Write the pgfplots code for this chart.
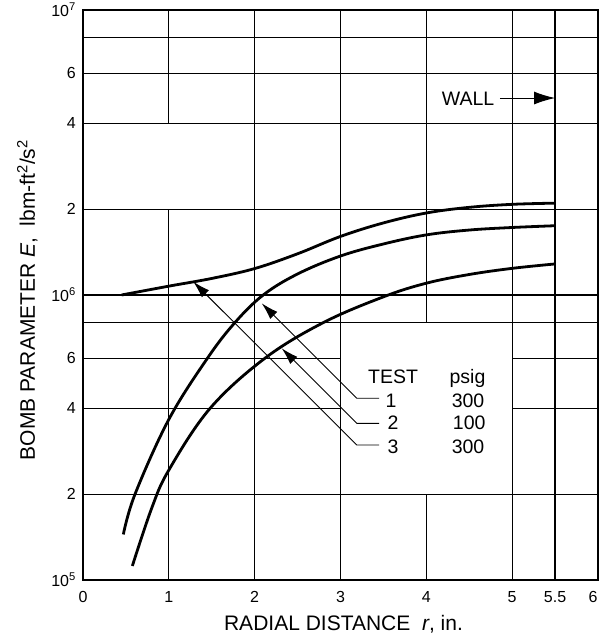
\documentclass[border=0pt]{standalone}
\usepackage{fontspec}
\setmainfont{Liberation Sans}
\usepackage{pgfplots}
\pgfplotsset{compat=1.18}
\usetikzlibrary{arrows.meta}

\pgfplotstableread{
x y
0.45 1.00e6
1.0 1.074e6
1.5 1.143e6
2.0 1.238e6
2.5 1.395e6
3.0 1.605e6
3.5 1.79e6
4.0 1.94e6
4.5 2.03e6
5.0 2.08e6
5.5 2.10e6
}\curvetop

\pgfplotstableread{
x y
0.47 1.445e5
0.606 2.0e5
1.0 3.66e5
1.45 6.0e5
1.77 8.0e5
2.1 1.0e6
2.5 1.185e6
3.0 1.37e6
3.5 1.51e6
4.0 1.625e6
4.5 1.69e6
5.0 1.725e6
5.5 1.75e6
}\curvemid

\pgfplotstableread{
x y
0.575 1.12e5
0.8 1.785e5
1.0 2.43e5
1.48 4.0e5
2.12 6.0e5
2.8 8.0e5
3.5 9.85e5
4.0 1.10e6
4.5 1.18e6
5.0 1.24e6
5.5 1.285e6
}\curvebot

\begin{document}
\begin{tikzpicture}[x=1pt,y=1pt]
\begin{axis}[name=ax, at={(0,0)}, anchor=south west,
  width=515pt, height=570pt, scale only axis,
  xmin=0, xmax=6, ymode=log, ymin=1e5, ymax=1e7,
  xtick={0,1,2,3,4,5,5.5,6}, xticklabels={0,1,2,3,4,5,5.5,\kern-5pt 6\kern5pt},
  ytick={1e5,2e5,4e5,6e5,1e6,2e6,4e6,6e6,1e7},
  yticklabels={10\textsuperscript{5},2,4,6,10\textsuperscript{6},2,4,6,\raisebox{-6pt}{10\textsuperscript{7}}},
  minor ytick={}, major tick length=0pt,
  tick label style={font=\fontsize{16}{16}\selectfont},
  yticklabel style={anchor=east, inner sep=0pt, xshift=-7pt},
  xticklabel style={anchor=north, inner sep=0pt, yshift=-11pt},
  axis line style={line width=2pt},
  clip=false,
]
% grid (with the gaps of the original drafting)
\begin{scope}[line width=1.3pt]
\draw (axis cs:1,1e5) -- (axis cs:1,2e6);
\draw (axis cs:1,4e6) -- (axis cs:1,1e7);
\draw (axis cs:2,1e5) -- (axis cs:2,1e7);
\draw (axis cs:3,1e5) -- (axis cs:3,1e7);
\draw (axis cs:4,1e5) -- (axis cs:4,2e5);
\draw (axis cs:4,8e5) -- (axis cs:4,1e7);
\draw (axis cs:5,1e5) -- (axis cs:5,1e7);
\draw (axis cs:0,2e5) -- (axis cs:6,2e5);
\draw (axis cs:0,4e5) -- (axis cs:3,4e5);
\draw (axis cs:5,4e5) -- (axis cs:6,4e5);
\draw (axis cs:0,6e5) -- (axis cs:3,6e5);
\draw (axis cs:5,6e5) -- (axis cs:6,6e5);
\draw (axis cs:0,8e5) -- (axis cs:6,8e5);
\draw (axis cs:0,1e6) -- (axis cs:6,1e6);
\draw (axis cs:0,2e6) -- (axis cs:6,2e6);
\draw (axis cs:0,4e6) -- (axis cs:6,4e6);
\draw (axis cs:0,6e6) -- (axis cs:6,6e6);
\draw (axis cs:0,8e6) -- (axis cs:6,8e6);
\end{scope}
% wall
\draw[line width=2.8pt] (axis cs:5.5,1e5) -- (axis cs:5.5,1e7);

\addplot[black, line width=2.8pt, smooth, tension=0.6] table[x=x,y=y] {\curvetop};
\addplot[black, line width=2.8pt, smooth, tension=0.6] table[x=x,y=y] {\curvemid};
\addplot[black, line width=2.8pt, smooth, tension=0.6] table[x=x,y=y] {\curvebot};

% leader arrows
\begin{scope}[line width=0.9pt, -{Latex[length=17pt,width=10pt]}]
\draw (axis cs:3.449,4.34e5) -- (axis cs:3.189,4.34e5) -- (axis cs:2.082,9.35e5);
\draw (axis cs:3.449,3.546e5) -- (axis cs:3.189,3.546e5) -- (axis cs:2.315,6.50e5);
\draw (axis cs:3.449,2.977e5) -- (axis cs:3.189,2.977e5) -- (axis cs:1.285,1.1134e6);
\end{scope}
\draw[line width=1pt, -{Latex[length=21pt,width=13pt]}] (axis cs:4.858,4.91e6) -- (axis cs:5.50,4.91e6);

\begin{scope}[font=\fontsize{19.5}{19.5}\selectfont]
\node[anchor=base, inner sep=0pt] at (axis cs:3.612,4.90e5) {TEST};
\node[anchor=base, inner sep=0pt] at (axis cs:4.480,4.90e5) {psig};
\node[anchor=base, inner sep=0pt] at (axis cs:3.589,4.036e5) {1};
\node[anchor=base, inner sep=0pt] at (axis cs:4.486,4.036e5) {300};
\node[anchor=base, inner sep=0pt] at (axis cs:3.612,3.36e5) {2};
\node[anchor=base, inner sep=0pt] at (axis cs:4.500,3.36e5) {100};
\node[anchor=base, inner sep=0pt] at (axis cs:3.612,2.784e5) {3};
\node[anchor=base, inner sep=0pt] at (axis cs:4.486,2.784e5) {300};
\node[anchor=base, inner sep=0pt] at (axis cs:4.486,4.605e6) {WALL};
\end{scope}
\end{axis}

\node[anchor=base, inner sep=0pt, font=\fontsize{21}{21}\selectfont]
  at ([yshift=-50.7pt, xshift=3pt]ax.south) {RADIAL DISTANCE\ \ \textit{r}, in.};
\node[rotate=90, anchor=base, inner sep=0pt, font=\fontsize{21}{21}\selectfont]
  at ([xshift=-48pt, yshift=-5pt]ax.west) {BOMB PARAMETER \textit{E},\ \ lbm-ft\textsuperscript{2}/s\textsuperscript{2}};

\pgfresetboundingbox
\path ([xshift=-83pt,yshift=-58pt]ax.south west) rectangle ([xshift=1pt,yshift=10pt]ax.north east);
\end{tikzpicture}
\end{document}
